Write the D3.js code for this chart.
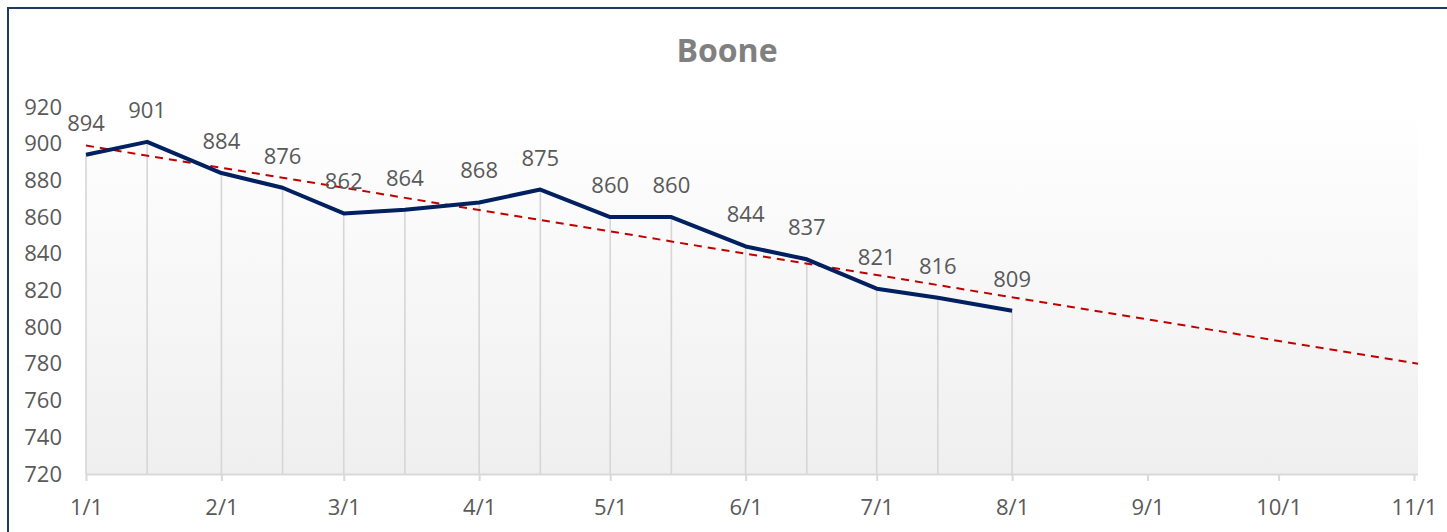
<!DOCTYPE html>
<html>
<head>
<meta charset="utf-8">
<script src="https://cdn.jsdelivr.net/npm/d3@7"></script>
<style>
  html, body { margin: 0; padding: 0; background: #fff; }
  svg { display: block; font-family: "Open Sans", sans-serif; }
</style>
</head>
<body>
<svg id="chart" width="1447" height="532"></svg>
<script>
// Boone: values (1st and 15th of each month)
const chartTitle = "Boone";
const dates = ["2021-01-01", "2021-01-15", "2021-02-01", "2021-02-15", "2021-03-01",
  "2021-03-15", "2021-04-01", "2021-04-15", "2021-05-01", "2021-05-15",
  "2021-06-01", "2021-06-15", "2021-07-01", "2021-07-15", "2021-08-01"];
const values = [894, 901, 884, 876, 862, 864, 868, 875, 860, 860, 844, 837, 821, 816, 809];
const yTicks = [720, 740, 760, 780, 800, 820, 840, 860, 880, 900, 920];
const xTicks = ["2021-01-01", "2021-02-01", "2021-03-01", "2021-04-01", "2021-05-01", "2021-06-01",
  "2021-07-01", "2021-08-01", "2021-09-01", "2021-10-01", "2021-11-01"];

const parse = d3.utcParse("%Y-%m-%d");
const data = dates.map((d, i) => ({ date: parse(d), value: values[i] }));

const svg = d3.select("#chart");
const plotLeft = 86, plotRight = 1418, lastTickX = 1414, plotTop = 107, plotBottom = 474;
const labelSize = 22;

const x = d3.scaleUtc()
  .domain([parse(xTicks[0]), parse(xTicks[xTicks.length - 1])])
  .range([plotLeft, lastTickX]);
const y = d3.scaleLinear().domain([720, 920]).range([plotBottom, plotTop]);

// plot area gradient
const defs = svg.append("defs");
const grad = defs.append("linearGradient")
  .attr("id", "bg").attr("x1", 0).attr("y1", 0).attr("x2", 0).attr("y2", 1);
grad.append("stop").attr("offset", "0%").attr("stop-color", "#ffffff");
grad.append("stop").attr("offset", "100%").attr("stop-color", "#efefef");

svg.append("rect")
  .attr("x", plotLeft).attr("y", plotTop)
  .attr("width", plotRight - plotLeft).attr("height", plotBottom - plotTop)
  .attr("fill", "url(#bg)");

// chart border
svg.append("rect")
  .attr("x", 8).attr("y", 8)
  .attr("width", 1460).attr("height", 560)
  .attr("fill", "none")
  .attr("stroke", "#1f3864")
  .attr("stroke-width", 2);

// title
svg.append("text")
  .attr("x", 727).attr("y", 62)
  .attr("text-anchor", "middle")
  .attr("font-size", 32)
  .attr("font-weight", "bold")
  .attr("fill", "#808080")
  .text(chartTitle);

// y axis (labels only)
svg.append("g")
  .attr("transform", `translate(${plotLeft - 24},0)`)
  .call(d3.axisLeft(y).tickValues(yTicks).tickSize(0).tickPadding(0))
  .call(g => g.select(".domain").remove())
  .selectAll("text")
  .attr("font-family", "Open Sans, sans-serif")
  .attr("font-size", labelSize)
  .attr("fill", "#595959");

// x axis
const xAxis = svg.append("g")
  .attr("transform", `translate(0,${plotBottom})`)
  .call(d3.axisBottom(x)
    .tickValues(xTicks.map(parse))
    .tickFormat(d3.utcFormat("%-m/%-d"))
    .tickSize(7)
    .tickSizeOuter(0)
    .tickPadding(18));
xAxis.select(".domain").attr("d", `M${plotLeft},0.5H${plotRight}`)
  .attr("stroke", "#d9d9d9").attr("stroke-width", 2);
xAxis.selectAll(".tick line").attr("stroke", "#d9d9d9").attr("stroke-width", 2);
xAxis.selectAll("text")
  .attr("font-family", "Open Sans, sans-serif")
  .attr("font-size", labelSize)
  .attr("fill", "#595959");

// drop lines
svg.append("g")
  .selectAll("line")
  .data(data)
  .join("line")
  .attr("x1", d => x(d.date)).attr("x2", d => x(d.date))
  .attr("y1", d => y(d.value)).attr("y2", plotBottom)
  .attr("stroke", "#d6d6d6")
  .attr("stroke-width", 1.6);

// linear trendline (least squares, extended to the plot edge)
const day = 864e5;
const t0 = data[0].date.getTime();
const xs = data.map(d => (d.date - t0) / day);
const mx = d3.mean(xs), my = d3.mean(values);
const slope = d3.sum(xs, (v, i) => (v - mx) * (values[i] - my)) / d3.sum(xs, v => (v - mx) ** 2);
const intercept = my - slope * mx;
const endDate = x.invert(plotRight);
const trend = [data[0].date, endDate].map(dt => ({
  date: dt, value: intercept + slope * (dt - t0) / day
}));

svg.append("path")
  .datum(trend)
  .attr("fill", "none")
  .attr("stroke", "#c00000")
  .attr("stroke-width", 2)
  .attr("stroke-dasharray", "8,6")
  .attr("d", d3.line().x(d => x(d.date)).y(d => y(d.value)));

// main series
svg.append("path")
  .datum(data)
  .attr("fill", "none")
  .attr("stroke", "#002060")
  .attr("stroke-width", 4)
  .attr("stroke-linejoin", "round")
  .attr("d", d3.line().x(d => x(d.date)).y(d => y(d.value)));

// data labels
svg.append("g")
  .selectAll("text")
  .data(data)
  .join("text")
  .attr("x", d => x(d.date))
  .attr("y", d => y(d.value) - 24)
  .attr("text-anchor", "middle")
  .attr("font-size", labelSize)
  .attr("fill", "#595959")
  .text(d => d.value);
</script>
</body>
</html>
